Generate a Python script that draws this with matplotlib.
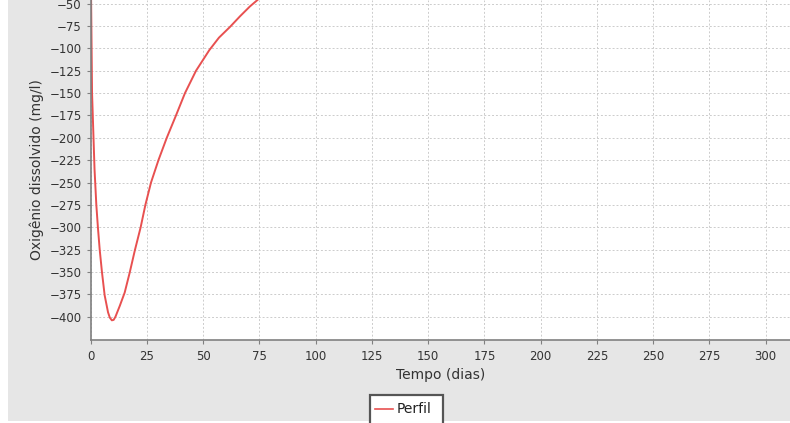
import matplotlib.pyplot as plt
from matplotlib.patches import Rectangle
from matplotlib.lines import Line2D

# dissolved oxygen profile
tempo = [0.0, 0.6, 1.7, 2.5, 3.2, 4.0, 5.0, 6.2, 7.7, 8.5, 9.4, 10.2, 11.0,
         12.9, 15.1, 17.3, 19.6, 22.2, 24.3, 26.8, 30.1, 33.8, 37.9, 41.9,
         46.8, 52.7, 57.0, 61.9, 66.4, 70.8, 75.0]
oxigenio = [0.0, -150.0, -235.0, -275.0, -300.0, -325.0, -350.0, -376.0, -395.0,
            -401.0, -404.0, -403.5, -400.0, -388.0, -373.0, -351.0, -326.0,
            -300.0, -275.0, -250.0, -225.0, -200.0, -175.0, -150.0, -125.0,
            -102.0, -88.0, -76.0, -64.0, -53.0, -44.0]

xticks = list(range(0, 301, 25))
yticks = list(range(-400, -49, 25))

W, H = 790, 423
fig = plt.figure(figsize=(W / 100, H / 100), dpi=100)
fig.patch.set_facecolor("white")
fig.patches.append(Rectangle((8 / W, 1 - 421 / H), 1, 421 / H, transform=fig.transFigure,
                             facecolor="#e6e6e6", edgecolor="none", zorder=-10))

ax = fig.add_axes([90.7 / W, 83 / H, 699.3 / W, 340 / H])
ax.set_zorder(1)
ax.set_facecolor("white")
ax.plot(tempo, oxigenio, color="#e85050", lw=1.4, clip_on=True)

ax.set_xlim(0, 310.8)
ax.set_ylim(-426, -45.9)
ax.set_xticks(xticks)
ax.set_yticks(yticks)
ax.grid(True, color="#cccccc", linestyle=(0, (2, 2)), lw=0.7)
ax.set_axisbelow(True)

for s in ["top", "right"]:
    ax.spines[s].set_visible(False)
for s in ["left", "bottom"]:
    ax.spines[s].set_color("#808080")
    ax.spines[s].set_linewidth(1.2)
ax.tick_params(colors="#808080", length=3, width=0.8, labelcolor="#333333", labelsize=8.5)
ax.tick_params(axis="x", pad=4)

ax.set_xlabel("Tempo (dias)", fontsize=10, color="#333333", labelpad=4)
ax.set_ylabel("Oxigênio dissolvido (mg/l)", fontsize=10, color="#333333", labelpad=4)

# legend box sitting below the chart
lx0, lx1, ly0 = 369.5 / W, 443.3 / W, 1 - 395.5 / H
fig.patches.append(Rectangle((lx0, -0.05), lx1 - lx0, ly0 + 0.05, transform=fig.transFigure,
                             facecolor="white", edgecolor="#555555", lw=1.6, zorder=3))
fig.lines.append(Line2D([375 / W, 393 / W], [1 - 409 / H] * 2, transform=fig.transFigure,
                        color="#e85050", lw=1.2, zorder=4))
fig.text(397 / W, 1 - 409 / H, "Perfil", fontsize=10, color="#222222", va="center", zorder=4)

fig.savefig("out.png", dpi=100)
